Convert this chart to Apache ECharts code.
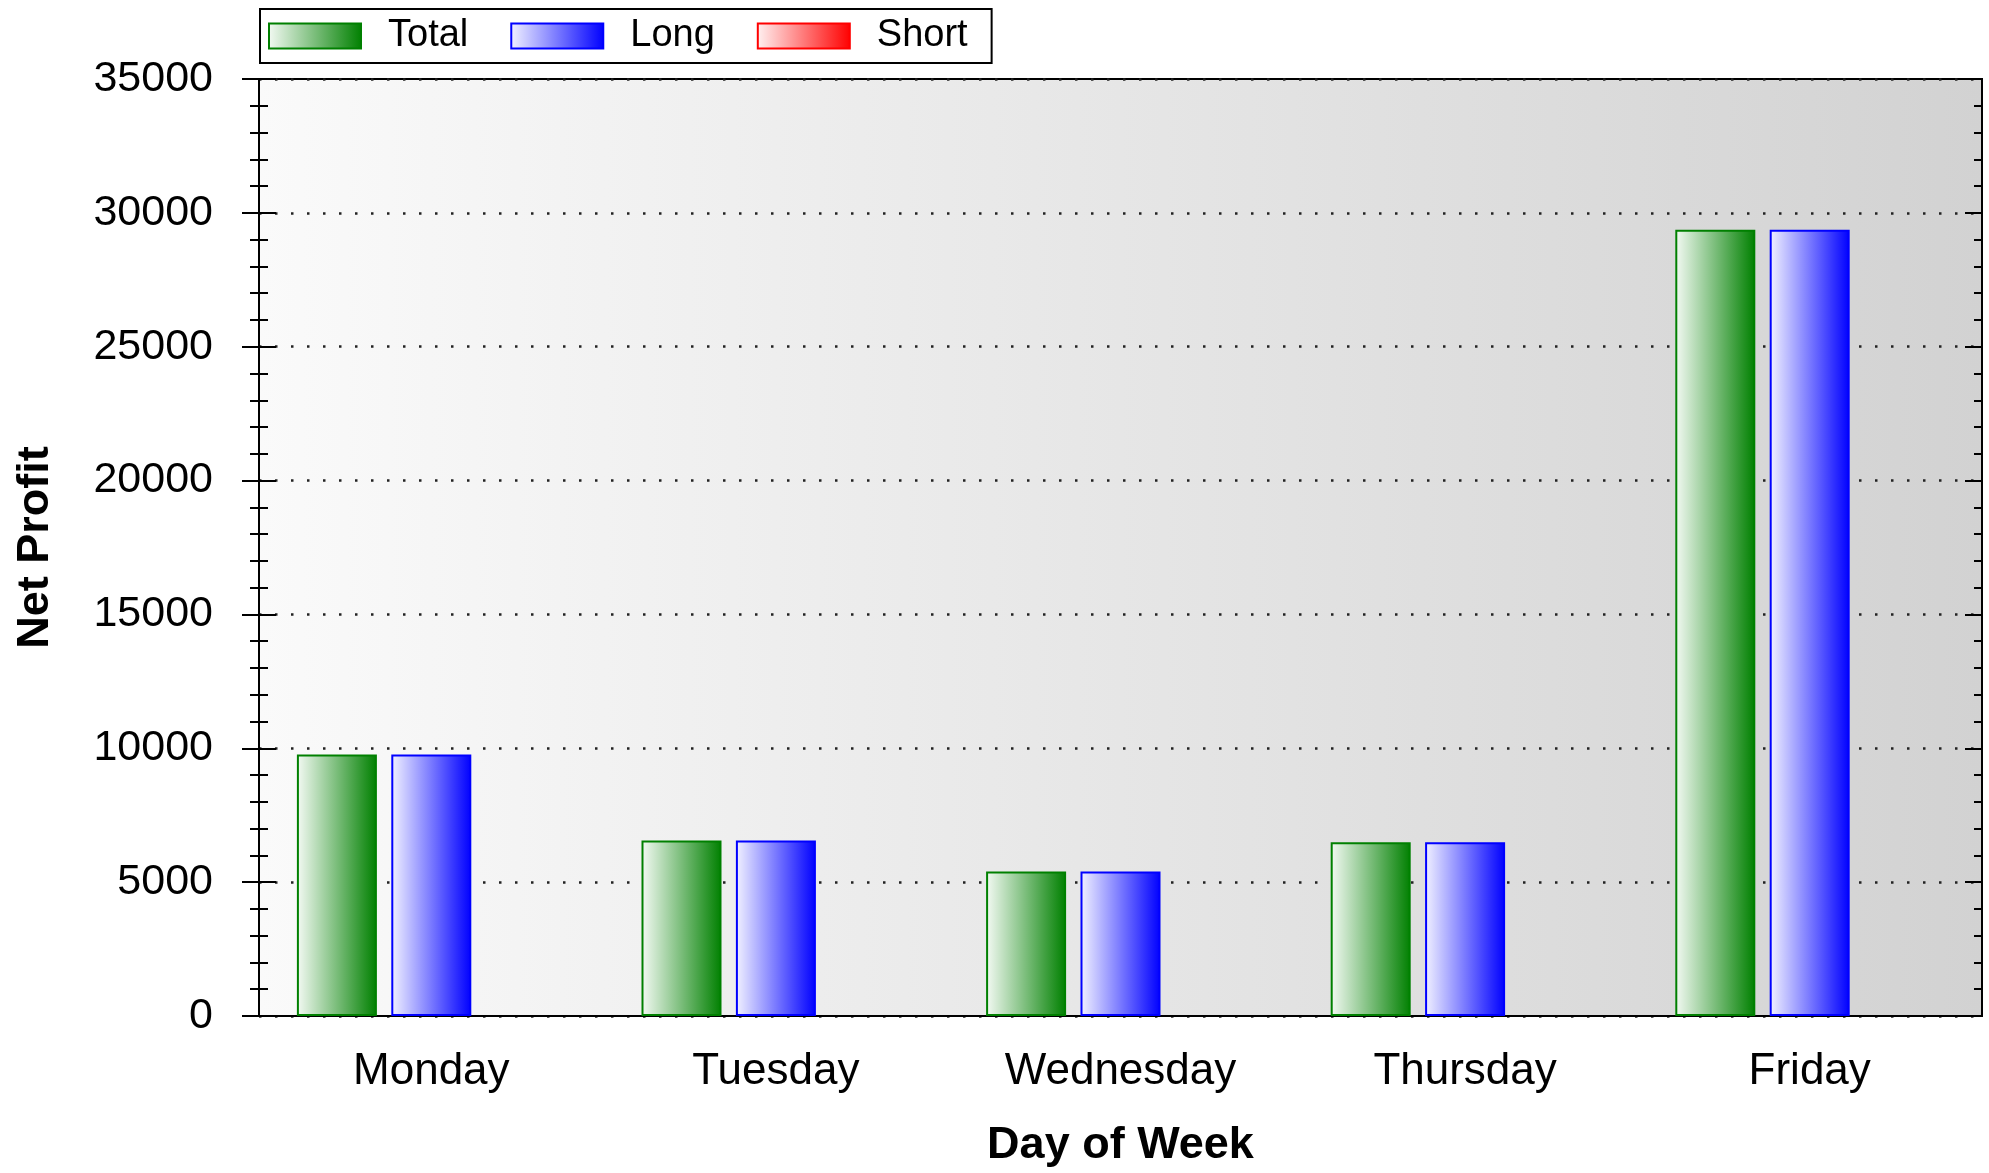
<!DOCTYPE html>
<html>
<head>
<meta charset="utf-8">
<script src="https://cdn.jsdelivr.net/npm/echarts@6/dist/echarts.min.js"></script>
<style>
  html, body { margin: 0; padding: 0; background: #fff; }
  #main { width: 1989px; height: 1173px; }
</style>
</head>
<body>
<div id="main"></div>
<script>
const days = ['Monday', 'Tuesday', 'Wednesday', 'Thursday', 'Friday'];
const totalValues = [9770, 6560, 5400, 6490, 29370];
const longValues = [9770, 6560, 5400, 6490, 29370];
const shortValues = [0, 0, 0, 0, 0];

const FONT = '"Liberation Sans", Arial, sans-serif';

const grad = (from, to) => new echarts.graphic.LinearGradient(0, 0, 1, 0, [
    { offset: 0, color: from },
    { offset: 1, color: to }
]);

const barSeries = (name, values, from, to, border) => ({
    name: name,
    type: 'bar',
    xAxisIndex: 0,
    yAxisIndex: 0,
    barWidth: 80,
    barGap: '18%',
    data: values.map(v => v === 0 ? { value: v, itemStyle: { borderWidth: 0 } } : v),
    itemStyle: {
        color: grad(from, to),
        borderColor: border,
        borderWidth: 2
    }
});

const yBase = { type: 'value', min: 0, max: 35000, interval: 5000 };
const xBase = { type: 'category', data: days, boundaryGap: true };

const option = {
    animation: false,
    textStyle: { fontFamily: FONT },
    legend: {
        data: ['Total', 'Long', 'Short'],
        left: 260,
        top: 9,
        icon: 'rect',
        itemWidth: 92,
        itemHeight: 25,
        itemGap: 42,
        padding: [8, 24, 8, 8],
        borderColor: '#000',
        borderWidth: 2,
        backgroundColor: '#fff',
        textStyle: { fontSize: 38, color: '#000', fontFamily: FONT, padding: [0, 0, 0, 22] }
    },
    grid: {
        left: 259,
        top: 79,
        right: 7,
        bottom: 155,
        show: true,
        borderColor: '#000',
        borderWidth: 2,
        backgroundColor: grad('#fafafa', '#d2d2d2')
    },
    xAxis: [
        Object.assign({}, xBase, {
            position: 'bottom',
            name: 'Day of Week',
            nameLocation: 'middle',
            nameGap: 107,
            nameTextStyle: { fontSize: 45, fontWeight: 'bold', color: '#000', fontFamily: FONT },
            axisLine: { lineStyle: { color: '#000', width: 2 } },
            axisTick: { alignWithLabel: true, length: 17, lineStyle: { color: '#000', width: 2 } },
            axisLabel: { fontSize: 44, color: '#000', margin: 34, fontFamily: FONT }
        }),
        Object.assign({}, xBase, {
            position: 'bottom',
            axisLine: { show: false },
            axisTick: { alignWithLabel: true, inside: true, length: 17, lineStyle: { color: '#000', width: 2 } },
            axisLabel: { show: false }
        }),
        Object.assign({}, xBase, {
            position: 'top',
            axisLine: { lineStyle: { color: '#000', width: 2 } },
            axisTick: { alignWithLabel: true, inside: true, length: 14, lineStyle: { color: '#000', width: 2 } },
            axisLabel: { show: false }
        })
    ],
    yAxis: [
        Object.assign({}, yBase, {
            position: 'left',
            name: 'Net Profit',
            nameLocation: 'middle',
            nameGap: 201,
            nameTextStyle: { fontSize: 45, fontWeight: 'bold', color: '#000', fontFamily: FONT },
            axisLine: { show: true, lineStyle: { color: '#000', width: 2 } },
            axisTick: { show: true, length: 17, lineStyle: { color: '#000', width: 2 } },
            minorTick: { show: true, splitNumber: 5, length: 9, lineStyle: { color: '#000', width: 2 } },
            axisLabel: { fontSize: 43, color: '#000', margin: 46, fontFamily: FONT, formatter: v => String(v) },
            splitLine: { show: true, lineStyle: { color: '#222', width: 2.5, type: [2.5, 13.5] } }
        }),
        Object.assign({}, yBase, {
            position: 'left',
            axisLine: { show: false },
            axisTick: { show: true, inside: true, length: 17, lineStyle: { color: '#000', width: 2 } },
            minorTick: { show: true, splitNumber: 5, length: 9, lineStyle: { color: '#000', width: 2 } },
            axisLabel: { show: false },
            splitLine: { show: false }
        }),
        Object.assign({}, yBase, {
            position: 'right',
            axisLine: { show: true, lineStyle: { color: '#000', width: 2 } },
            axisTick: { show: true, inside: true, length: 17, lineStyle: { color: '#000', width: 2 } },
            minorTick: { show: true, splitNumber: 5, length: 8, lineStyle: { color: '#000', width: 2 } },
            axisLabel: { show: false },
            splitLine: { show: false }
        })
    ],
    series: [
        barSeries('Total', totalValues, '#f4faf4', '#008000', '#008000'),
        barSeries('Long', longValues, '#f2f2ff', '#0000ff', '#0000ff'),
        barSeries('Short', shortValues, '#fff2f2', '#ff0000', '#ff0000')
    ]
};

const chart = echarts.init(document.getElementById('main'), null, { renderer: 'canvas' });
chart.setOption(option);
</script>
</body>
</html>
